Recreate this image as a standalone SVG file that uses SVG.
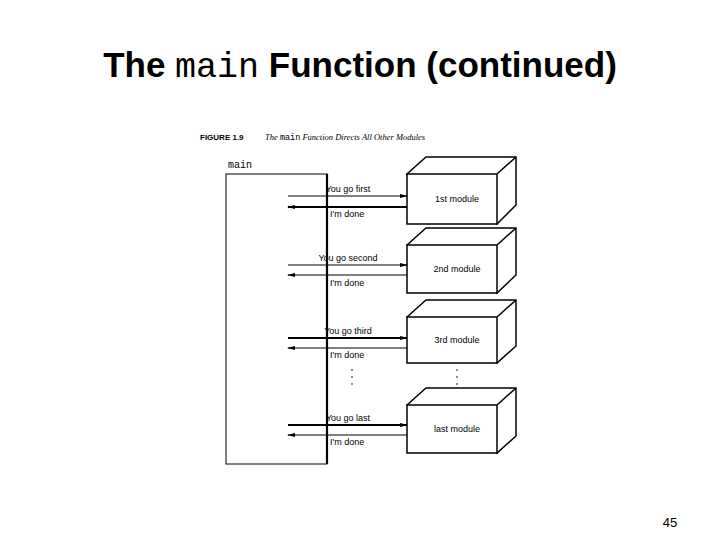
<svg xmlns="http://www.w3.org/2000/svg" width="720" height="540" viewBox="0 0 720 540">
<style>
.s{font-family:"Liberation Sans",Arial,sans-serif;font-size:9px;fill:#000}
.box{fill:#fff;stroke:#000;stroke-width:1.5}
.thin{stroke:#000;stroke-width:1;fill:none}
.thick{stroke:#000;stroke-width:2.2;fill:none}
</style>
<defs>
<marker id="a" markerWidth="8" markerHeight="6" refX="7" refY="3" orient="auto" markerUnits="userSpaceOnUse"><path d="M0,1 L8,3 L0,5z" fill="#000"/></marker>
</defs>
<rect width="720" height="540" fill="#fff"/>
<text x="360" y="77" text-anchor="middle" font-family="Liberation Sans,Arial,sans-serif" font-size="35" font-weight="bold">The <tspan font-family="Liberation Mono,Courier New,monospace" font-weight="normal">main</tspan> Function (continued)</text>
<text x="200" y="140" font-family="Liberation Sans,Arial,sans-serif" font-size="8" font-weight="bold">FIGURE 1.9</text>
<text x="265" y="140" font-family="Liberation Serif,Times New Roman,serif" font-size="8.5" font-style="italic">The <tspan font-family="Liberation Mono,monospace" font-style="normal">main</tspan> Function Directs All Other Modules</text>
<g id="main">
<text x="228" y="168" font-family="Liberation Mono,Courier New,monospace" font-size="10">main</text>
<rect x="226" y="174" width="101" height="290" fill="none" stroke="#000" stroke-width="1"/>
<line x1="327" y1="174" x2="327" y2="464" stroke="#000" stroke-width="2.2"/>
</g>
<g id="m1"><path class="box" d="M407,174 L426,157 L516,157 L516,205 L497,224 Z M497,174 L516,157"/><rect class="box" x="407" y="174" width="90" height="50"/><text class="s" x="457" y="202" text-anchor="middle">1st module</text></g>
<g id="m2"><path class="box" d="M407,245 L426,228 L516,228 L516,275 L497,293 Z M497,245 L516,228"/><rect class="box" x="407" y="245" width="90" height="48"/><text class="s" x="457" y="272" text-anchor="middle">2nd module</text></g>
<g id="m3"><path class="box" d="M407,317 L426,300 L516,300 L516,346 L497,363 Z M497,317 L516,300"/><rect class="box" x="407" y="317" width="90" height="46"/><text class="s" x="457" y="343" text-anchor="middle">3rd module</text></g>
<g id="m4"><path class="box" d="M407,405 L426,388 L516,388 L516,436 L497,453 Z M497,405 L516,388"/><rect class="box" x="407" y="405" width="90" height="48"/><text class="s" x="457" y="432" text-anchor="middle">last module</text></g>
<g id="connectors">
<line class="thin" x1="288" y1="196" x2="407" y2="196" marker-end="url(#a)"/>
<line class="thick" x1="407" y1="207" x2="288" y2="207" marker-end="url(#a)"/>
<line class="thin" x1="288" y1="265" x2="407" y2="265" marker-end="url(#a)"/>
<line class="thin" x1="407" y1="275" x2="288" y2="275" marker-end="url(#a)"/>
<line class="thick" x1="288" y1="338" x2="407" y2="338" marker-end="url(#a)"/>
<line class="thin" x1="407" y1="348" x2="288" y2="348" marker-end="url(#a)"/>
<line class="thick" x1="288" y1="425" x2="407" y2="425" marker-end="url(#a)"/>
<line class="thin" x1="407" y1="435" x2="288" y2="435" marker-end="url(#a)"/>
</g>
<g id="labels">
<text class="s" x="348" y="192" text-anchor="middle">You go first</text>
<text class="s" x="330" y="217">I'm done</text>
<text class="s" x="348" y="261" text-anchor="middle">You go second</text>
<text class="s" x="330" y="286">I'm done</text>
<text class="s" x="348" y="334" text-anchor="middle">You go third</text>
<text class="s" x="330" y="358">I'm done</text>
<text class="s" x="348" y="421" text-anchor="middle">You go last</text>
<text class="s" x="330" y="445">I'm done</text>
</g>
<g id="dots" fill="#000">
<circle cx="352" cy="370" r="0.8"/><circle cx="352" cy="377" r="0.8"/><circle cx="352" cy="384" r="0.8"/>
<circle cx="457" cy="370" r="0.8"/><circle cx="457" cy="377" r="0.8"/><circle cx="457" cy="384" r="0.8"/>
</g>
<text x="670" y="527" text-anchor="middle" font-family="Liberation Sans,Arial,sans-serif" font-size="13">45</text>
</svg>
